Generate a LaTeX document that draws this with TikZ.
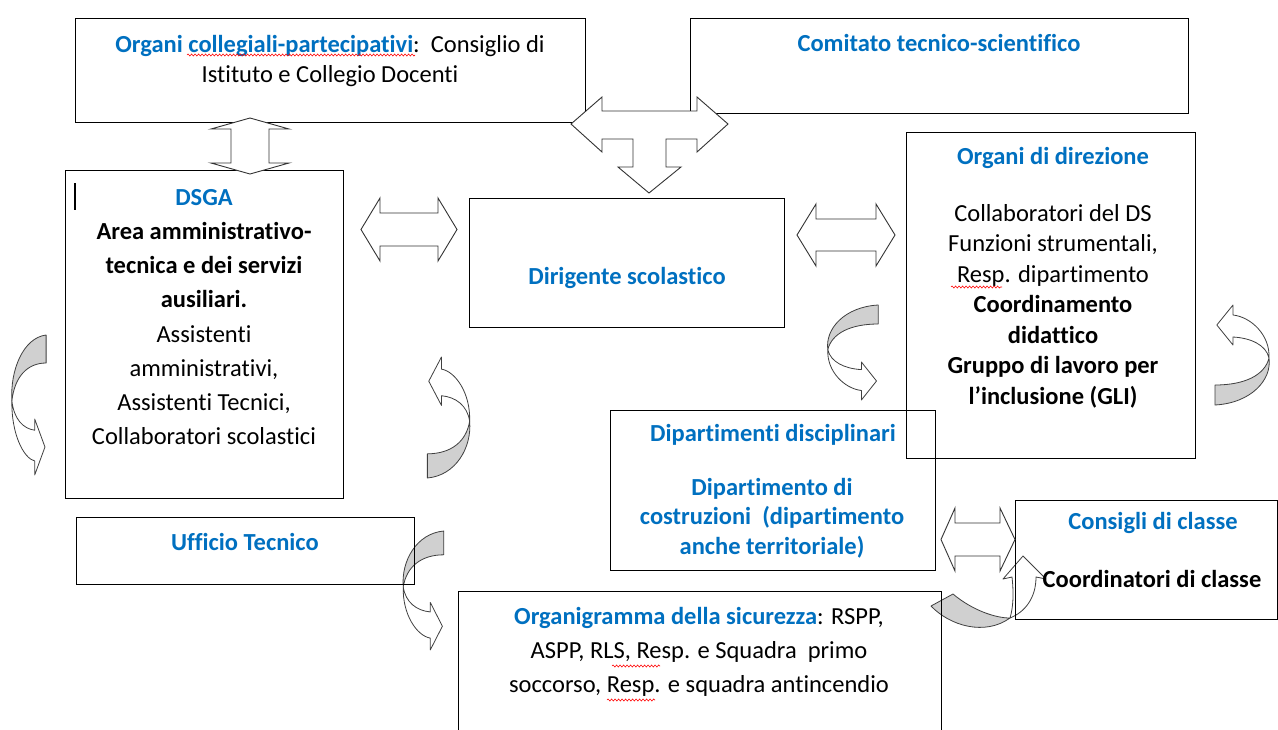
\documentclass[tikz,border=0pt]{standalone}
\usepackage{fontspec}
\setmainfont{Carlito}[Ligatures=CommonOff,RawFeature={-calt;-dlig}]
\usetikzlibrary{decorations.pathmorphing}
\definecolor{hblue}{RGB}{0,112,192}
\definecolor{arrgray}{RGB}{208,208,208}
\newcommand\hdg[1]{\textcolor{hblue}{\bfseries #1}}
\newcommand\curvarr[5]{%
 \begin{scope}[shift={(#1,#2)},rotate=#5,xscale=#3,yscale=#4]
  \filldraw[carr, fill=arrgray] (0.45,-0.5) .. controls (-0.15,-0.48) and (-0.5,-0.25) .. (-0.45,-0.03) .. controls (-0.38,-0.2) and (-0.05,-0.3) .. (0.45,-0.3) -- cycle;
  \filldraw[carr, fill=white] (-0.45,-0.03) .. controls (-0.47,0.2) and (-0.15,0.38) .. (0.15,0.4) -- (0.15,0.5) -- (0.42,0.3) -- (0.15,0.1) -- (0.15,0.18) .. controls (-0.15,0.17) and (-0.4,0.1) .. (-0.45,-0.03) -- cycle;
 \end{scope}}
\begin{document}
\begin{tikzpicture}[x=1pt,y=-1pt,
  box/.style={draw=black, line width=1pt, inner sep=0pt},
  blk/.style={draw=black!80, fill=white, line width=0.9pt, line join=miter},
  carr/.style={draw=black!75, line width=0.8pt, line join=round},
  txt/.style={align=center, inner sep=0pt, font=\fontsize{24.5}{30}\selectfont},
  squig/.style={draw=red, line width=0.6pt, decorate, decoration={snake, amplitude=1pt, segment length=3.5pt}}]
\useasboundingbox (0,0) rectangle (1278,729);
\clip (0,0) rectangle (1278,729);
\fill[white] (0,0) rectangle (1278,729);
% curved arrows
\curvarr{29}{405}{38}{140}{0}
\curvarr{448.5}{417.5}{47}{121}{180}
\curvarr{853}{352.5}{56}{95}{0}
\curvarr{1242}{355}{60}{100}{180}
\curvarr{423.5}{590.5}{45}{119}{0}
% curved arrow between Organigramma and Consigli
\filldraw[carr, fill=arrgray] (931,606) .. controls (950,626) and (985,636) .. (1010,618) .. controls (995,618) and (972,610) .. (953,594) -- cycle;
\filldraw[carr, fill=white] (1010,618) .. controls (1025,612) and (1036,598) .. (1036,577) -- (1046,579) -- (1023,556) -- (1003,579) -- (1012,577) .. controls (1014,595) and (1013,608) .. (1010,618) -- cycle;
% boxes
\node[box, minimum width=510pt, minimum height=104pt] (coll) at (330,70) {};
\node[box, minimum width=498pt, minimum height=95pt] (comit) at (939,65.5) {};
\node[box, minimum width=278pt, minimum height=328pt] (dsga) at (204,334) {};
\node[box, minimum width=315pt, minimum height=129pt] (ds) at (626.5,262.5) {};
\node[box, minimum width=289pt, minimum height=326pt] (odir) at (1050.5,295) {};
\node[box, minimum width=325pt, minimum height=160pt] (dip) at (772.5,490) {};
\node[box, minimum width=262pt, minimum height=119pt] (cons) at (1146,559.5) {};
\node[box, minimum width=338pt, minimum height=67pt] (uff) at (245,550.5) {};
\node[box, minimum width=483pt, minimum height=159pt] (org) at (699.5,670.5) {};
% block arrows
\draw[blk] (250,118) -- (289,129) -- (269,129) -- (269,163) -- (289,163) -- (250,174) -- (211,163) -- (231,163) -- (231,129) -- (211,129) -- cycle;
\draw[blk] (361,229.5) -- (380,198) -- (380,213) -- (438,213) -- (438,198) -- (457,229.5) -- (438,261) -- (438,246) -- (380,246) -- (380,261) -- cycle;
\draw[blk] (797,235) -- (816,204) -- (816,219) -- (876,219) -- (876,204) -- (895,235) -- (876,266) -- (876,251) -- (816,251) -- (816,266) -- cycle;
\draw[blk] (571,124) -- (602,97) -- (602,111) -- (697,111) -- (697,97) -- (728,124) -- (697,152) -- (697,139) -- (666,139) -- (666,167) -- (681,167) -- (649,193) -- (618,167) -- (633,167) -- (633,139) -- (602,139) -- (602,152) -- cycle;
\draw[blk] (941,539.5) -- (955,508) -- (955,523) -- (1000,523) -- (1000,508) -- (1015,539.5) -- (1000,571) -- (1000,556) -- (955,556) -- (955,571) -- cycle;
% texts
\node[txt] (tcoll) at (330,61) {\hdg{Organi collegiali-partecipativi}:\ \ Consiglio di\\Istituto e Collegio Docenti};
\node[txt] (tcomit) at (939,43) {\hdg{Comitato tecnico-scientifico}};
\node[txt, font=\fontsize{24.5}{34.2}\selectfont] (tdsga) at (204,317) {\hdg{DSGA}\\\bfseries Area amministrativo-\\\bfseries tecnica e dei servizi\\\bfseries ausiliari.\\Assistenti\\amministrativi,\\Assistenti Tecnici,\\Collaboratori scolastici};
\node[txt] (tds) at (627,278) {\hdg{Dirigente scolastico}};
\node[txt] (todirh) at (1053,158) {\hdg{Organi di direzione}};
\node[txt, font=\fontsize{24.5}{30.5}\selectfont] (todir) at (1053,306) {Collaboratori del DS\\Funzioni strumentali,\\Resp. dipartimento\\\bfseries Coordinamento\\\bfseries didattico\\\bfseries Gruppo di lavoro per\\\bfseries l’inclusione (GLI)};
\node[txt] (tdiph) at (773,435) {\hdg{Dipartimenti disciplinari}};
\node[txt, font=\fontsize{24.5}{29.5}\selectfont] (tdip) at (772,518) {\hdg{Dipartimento di}\\\hdg{costruzioni\ \ (dipartimento}\\\hdg{anche territoriale)}};
\node[txt] (tconsh) at (1153,523) {\hdg{Consigli di classe}};
\node[txt] (tcons) at (1152,579) {\bfseries Coordinatori di classe};
\node[txt] (tuff) at (245,542) {\hdg{Ufficio Tecnico}};
\node[txt, font=\fontsize{24.5}{34}\selectfont] (torg) at (699,652) {\hdg{Organigramma della sicurezza}: RSPP,\\ASPP, RLS, Resp. e Squadra\ \ primo\\soccorso, Resp. e squadra antincendio};
% spell-check marks and cursor
\draw[squig] (187,55) -- (415,55);
\draw[squig] (951,287) -- (1002,287);
\draw[squig] (612,666) -- (660,666);
\draw[squig] (607,700) -- (655,700);
\draw[line width=2.2pt] (75,183) -- (75,210);
\end{tikzpicture}
\end{document}
